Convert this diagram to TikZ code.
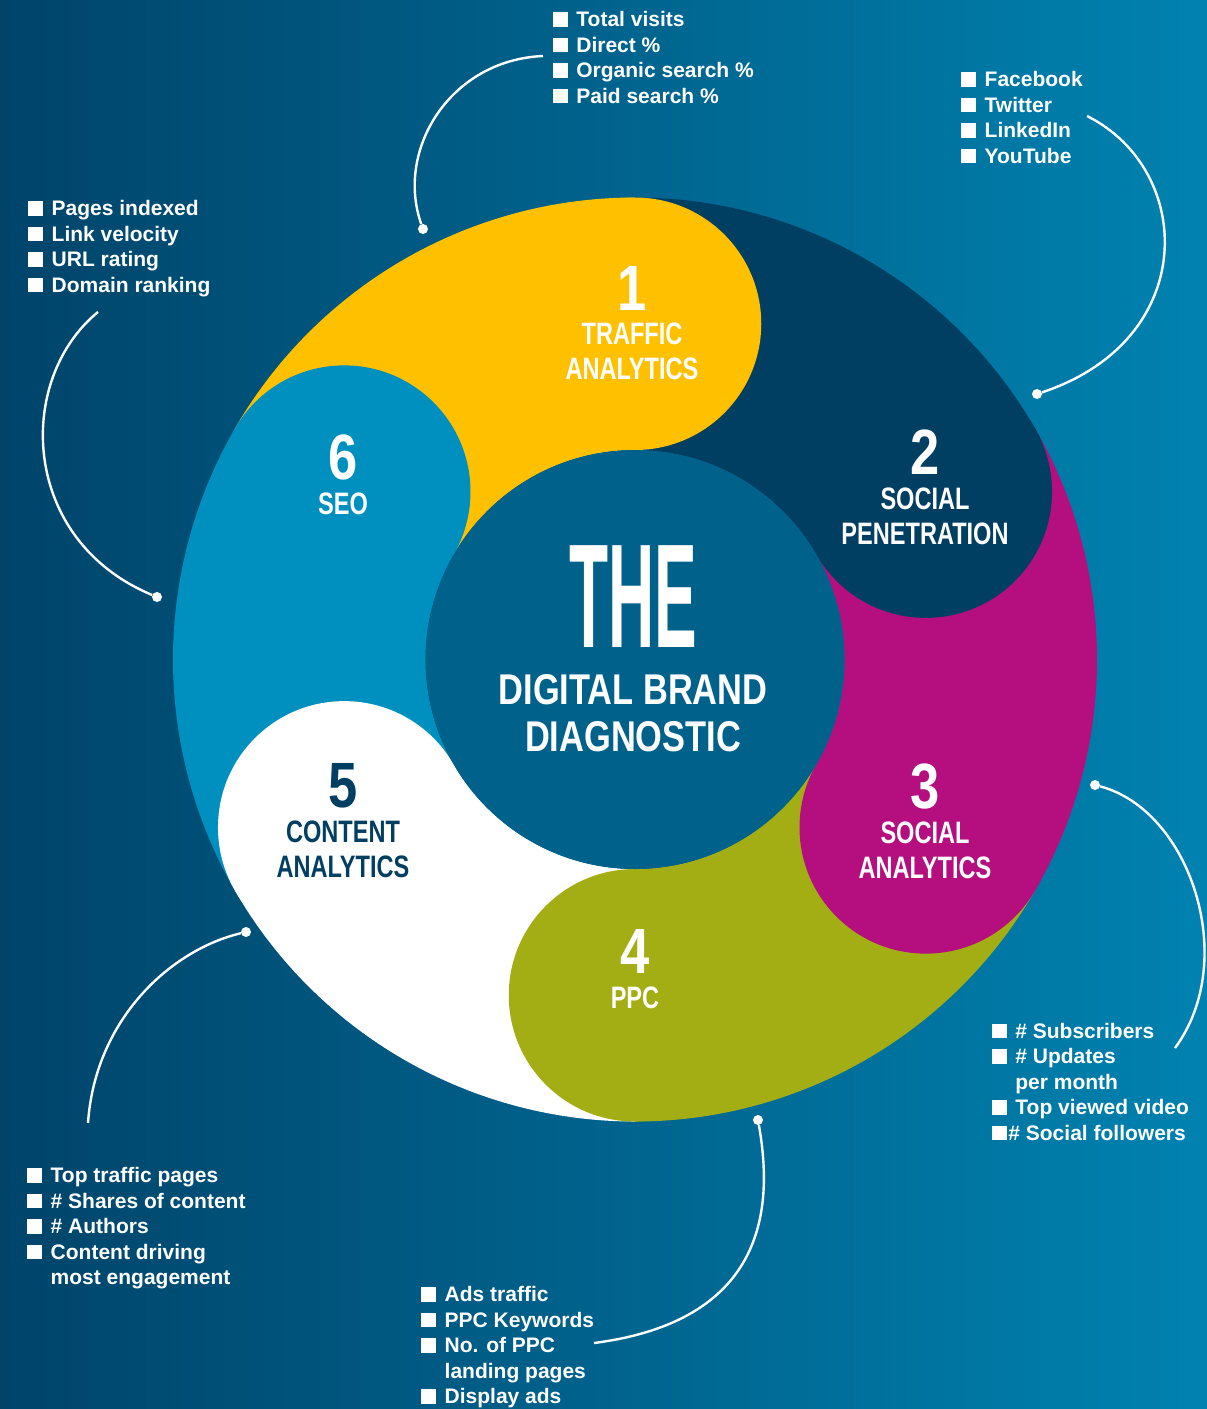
\documentclass[tikz,border=0pt]{standalone}
\usepackage{fontspec}
\setmainfont{Liberation Sans}
\newfontfamily\condfont[FakeStretch=0.76]{Liberation Sans}
\newfontfamily\numfont[FakeStretch=0.82]{Liberation Sans}
\newfontfamily\centfont[FakeStretch=0.8]{Liberation Sans}
\usetikzlibrary{positioning}
\definecolor{bgleft}{HTML}{00446A}
\definecolor{bgright}{HTML}{0082B0}
\definecolor{hub}{HTML}{00618B}
\definecolor{traffic}{HTML}{FFC000}
\definecolor{socialpen}{HTML}{003E62}
\definecolor{socialan}{HTML}{B50E7E}
\definecolor{ppc}{HTML}{A3AD14}
\definecolor{content}{HTML}{FFFFFF}
\definecolor{seo}{HTML}{0090C0}
\newcommand{\sq}{\rule{15pt}{14.5pt}\hspace{8.5pt}}
\newcommand{\sqtight}{\rule{15pt}{14.5pt}\hspace{1.5pt}}
\newcommand{\cont}{\hspace*{23.5pt}}

\begin{document}
\begin{tikzpicture}[x=1pt,y=1pt]
	  \tikzstyle{num}=[inner sep=0pt,text=white,font=\numfont\bfseries\fontsize{64}{64}\selectfont]
	  \tikzstyle{lbl}=[inner sep=0pt,text=white,align=center,font=\condfont\bfseries\fontsize{31}{35}\selectfont]
	  \tikzstyle{hubtxt}=[inner sep=0pt,text=white,align=center,font=\centfont\bfseries\fontsize{43}{46.8}\selectfont]
	  \tikzstyle{list}=[inner sep=0pt,anchor=north west,text=white,align=left,font=\bfseries\fontsize{21}{25.5}\selectfont]
	  \tikzstyle{dot}=[circle,fill=white,inner sep=0pt,minimum size=10pt]
	  \tikzstyle{link}=[white,line width=2.4pt]

	  \shade[left color=bgleft,right color=bgright] (0,0) rectangle (1207,-1409);
	  \useasboundingbox (0,0) rectangle (1207,-1409);

	  % ring: tails first, lobes on top
	  \begin{scope}[shift={(635,-659.5)}]
	    \foreach \a/\c in {90/traffic,30/socialpen,-30/socialan,-90/ppc,-150/content,150/seo}
	      \fill[\c] (\a:462) arc[start angle=\a,end angle=\a+60,radius=462]
	        -- (\a+60:209.5) arc[start angle=\a+60,end angle=\a,radius=209.5] -- cycle;
	    \foreach \a/\c in {90/traffic,30/socialpen,-30/socialan,-90/ppc,-150/content,150/seo}
	      \fill[\c] (\a:335.75) circle (126.25);
	    \fill[hub] (0,0) circle (209.5);
	  \end{scope}

	  \node[num] (N1) at (632,-288) {1};
	  \node[lbl] (T1) [below=12.5pt of N1] {TRAFFIC\\ANALYTICS};
	  \node[num] (N2) at (925,-452.5) {2};
	  \node[lbl] (T2) [below=12.5pt of N2] {SOCIAL\\PENETRATION};
	  \node[num] (N3) at (925,-786.7) {3};
	  \node[lbl] (T3) [below=12.5pt of N3] {SOCIAL\\ANALYTICS};
	  \node[num] (N4) at (635,-951.7) {4};
	  \node[lbl] (T4) [below=12.5pt of N4] {PPC};
	  \node[num,text=socialpen] (N5) at (343,-786) {5};
	  \node[lbl,text=socialpen] (T5) [below=12.5pt of N5] {CONTENT\\ANALYTICS};
	  \node[num] (N6) at (343,-457) {6};
	  \node[lbl] (T6) [below=12.5pt of N6] {SEO};

	  \node[inner sep=0pt,text=white,font=\centfont\bfseries\fontsize{148}{148}\selectfont] (THE) at (633,-596.7) {\scalebox{0.54}[1]{THE}};
	  \node[hubtxt] (DBD) [below=26.7pt of THE] {DIGITAL BRAND\\DIAGNOSTIC};

	  \node[list] (L1) at (552.7,-11.5) {\sq Total visits\\\sq Direct \%\\\sq Organic search \%\\\sq Paid search \%};
	  \node[list] (L2) at (961,-71.5) {\sq Facebook\\\sq Twitter\\\sq LinkedIn\\\sq YouTube};
	  \node[list] (L3) at (28,-200.5) {\sq Pages indexed\\\sq Link velocity\\\sq URL rating\\\sq Domain ranking};
	  \node[list] (L4) at (991.7,-1023) {\sq \# Subscribers\\\sq \# Updates\\\cont per month\\\sq Top viewed video\\\sqtight\# Social followers};
	  \node[list] (L5) at (27,-1167.5) {\sq Top traffic pages\\\sq \# Shares of content\\\sq \# Authors\\\sq Content driving\\\cont most engagement};
	  \node[list] (L6) at (421,-1286.5) {\sq Ads traffic\\\sq PPC Keywords\\\sq No. of PPC\\\cont landing pages\\\sq Display ads};

	  \coordinate (C1) at (543,-56);
	  \coordinate (C2) at (1087,-116);
	  \coordinate (C3) at (98,-312);
	  \coordinate (C4) at (1175,-1048);
	  \coordinate (C5) at (88,-1123);
	  \coordinate (C6) at (594,-1343);
	  \node[dot] (D1) at (423,-229) {};
	  \node[dot] (D2) at (1037,-394) {};
	  \node[dot] (D3) at (157,-597) {};
	  \node[dot] (D4) at (1095,-785) {};
	  \node[dot] (D5) at (246,-932) {};
	  \node[dot] (D6) at (758,-1120) {};

	  \draw[link] (C1) .. controls (450,-60) and (395,-150) .. (D1);
	  \draw[link] (C2) .. controls (1195,-170) and (1200,-340) .. (D2);
	  \draw[link] (C3) .. controls (15,-380) and (20,-540) .. (D3);
	  \draw[link] (D4) .. controls (1190,-810) and (1240,-960) .. (C4);
	  \draw[link] (D5) .. controls (170,-950) and (95,-1020) .. (C5);
	  \draw[link] (D6) .. controls (772,-1200) and (772,-1320) .. (C6);
	\end{tikzpicture}
\end{document}
